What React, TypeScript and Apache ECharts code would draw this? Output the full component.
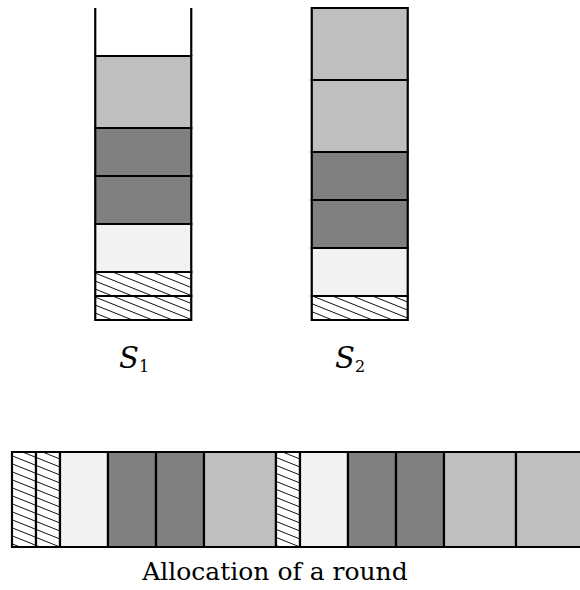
import React, { useEffect, useRef } from "react";
import * as echarts from "echarts";

// Stacks (units of equal height, bottom to top)
const stackNames = ["S1", "S2"];
const stackCapacity = 13;
const stack1Kinds = ["hatch", "hatch", "white", "dark", "dark", "light", "open"];
const stack1Sizes = [1, 1, 2, 2, 2, 3, 2];
const stack2Kinds = ["hatch", "white", "dark", "dark", "light", "light"];
const stack2Sizes = [1, 2, 2, 2, 3, 3];

// Allocation of a round (left to right); the last block runs past the page edge
const roundKinds = ["hatch", "hatch", "white", "dark", "dark", "light", "hatch", "white", "dark", "dark", "light", "light"];
const roundSizes = [1, 1, 2, 2, 2, 3, 1, 2, 2, 2, 3, 3];
const roundVisibleUnits = 23.6667;

const kindList = ["hatch", "white", "dark", "light", "open"];
const fills: Record<string, string> = {
  hatch: "#ffffff",
  white: "#f2f2f2",
  dark: "#808080",
  light: "#bfbfbf",
  open: "none",
};

function buildStackData() {
  const out: number[][] = [];
  [
    [stack1Kinds, stack1Sizes],
    [stack2Kinds, stack2Sizes],
  ].forEach(([kinds, sizes], si) => {
    let acc = 0;
    (kinds as string[]).forEach((k, i) => {
      const s = (sizes as number[])[i];
      out.push([si, acc, acc + s, kindList.indexOf(k)]);
      acc += s;
    });
  });
  return out;
}

function buildRoundData() {
  const out: number[][] = [];
  let acc = 0;
  roundKinds.forEach((k, i) => {
    out.push([acc, acc + roundSizes[i], kindList.indexOf(k)]);
    acc += roundSizes[i];
  });
  return out;
}

const SLOPE = 0.4;
const SPACING = 8;

function hatchLines(x1: number, y1: number, x2: number, y2: number) {
  const lines: any[] = [];
  const cMin = y1 - SLOPE * x2;
  const cMax = y2 - SLOPE * x1;
  const kStart = Math.floor(cMin / SPACING);
  const kEnd = Math.ceil(cMax / SPACING);
  for (let k = kStart; k <= kEnd; k++) {
    const c = k * SPACING + 3;
    const xa = Math.max(x1, (y1 - c) / SLOPE);
    const xb = Math.min(x2, (y2 - c) / SLOPE);
    if (xb - xa > 0.5) {
      lines.push({
        type: "line",
        shape: { x1: xa, y1: SLOPE * xa + c, x2: xb, y2: SLOPE * xb + c },
        style: { stroke: "#111", lineWidth: 1 },
        silent: true,
      });
    }
  }
  return lines;
}

function makeCell(x: number, y: number, w: number, h: number, kind: string) {
  const children: any[] = [];
  if (kind === "open") {
    children.push({
      type: "line",
      shape: { x1: x, y1: y, x2: x, y2: y + h },
      style: { stroke: "#000", lineWidth: 2.2 },
    });
    children.push({
      type: "line",
      shape: { x1: x + w, y1: y, x2: x + w, y2: y + h },
      style: { stroke: "#000", lineWidth: 2.2 },
    });
    return { type: "group", children };
  }
  children.push({
    type: "rect",
    shape: { x, y, width: w, height: h },
    style: { fill: fills[kind], stroke: "none" },
  });
  if (kind === "hatch") {
    children.push(...hatchLines(x, y, x + w, y + h));
  }
  children.push({
    type: "rect",
    shape: { x, y, width: w, height: h },
    style: { fill: "none", stroke: "#000", lineWidth: 2.2 },
  });
  return { type: "group", children };
}

export default function App() {
  const ref = useRef<HTMLDivElement>(null);
  useEffect(() => {
    if (!ref.current) return;
    const chart = echarts.init(ref.current, undefined, { renderer: "svg" });
    chart.setOption({
      animation: false,
      backgroundColor: "#ffffff",
      grid: [
        { left: 35, top: 8, width: 433, height: 312 },
        { left: 12, right: 0, top: 452, height: 95 },
      ],
      xAxis: [
        { gridIndex: 0, type: "value", min: -0.5, max: 1.5, show: false },
        { gridIndex: 1, type: "value", min: 0, max: roundVisibleUnits, show: false },
      ],
      yAxis: [
        { gridIndex: 0, type: "value", min: 0, max: stackCapacity, show: false },
        { gridIndex: 1, type: "value", min: 0, max: 1, show: false },
      ],
      series: [
        {
          type: "custom",
          name: stackNames.join(","),
          xAxisIndex: 0,
          yAxisIndex: 0,
          clip: false,
          silent: true,
          data: buildStackData(),
          renderItem: (params: any, api: any) => {
            const si = api.value(0);
            const p0 = api.coord([si, api.value(1)]);
            const p1 = api.coord([si, api.value(2)]);
            const w = api.size([1, 0])[0] * 0.4434;
            const kind = kindList[api.value(3)];
            return makeCell(p0[0] - w / 2, p1[1], w, p0[1] - p1[1], kind);
          },
        },
        {
          type: "custom",
          name: "round",
          xAxisIndex: 1,
          yAxisIndex: 1,
          clip: false,
          silent: true,
          data: buildRoundData(),
          renderItem: (params: any, api: any) => {
            const p0 = api.coord([api.value(0), 0]);
            const p1 = api.coord([api.value(1), 1]);
            const kind = kindList[api.value(2)];
            return makeCell(p0[0], p1[1], p1[0] - p0[0], p0[1] - p1[1], kind);
          },
        },
      ],
      graphic: [
        {
          type: "text",
          x: 119,
          y: 358,
          style: { text: "S", font: "italic 29px 'DejaVu Serif'", fill: "#000", verticalAlign: "middle" },
        },
        {
          type: "text",
          x: 139,
          y: 366,
          style: { text: "1", font: "16px 'DejaVu Serif'", fill: "#000", verticalAlign: "middle" },
        },
        {
          type: "text",
          x: 335,
          y: 358,
          style: { text: "S", font: "italic 29px 'DejaVu Serif'", fill: "#000", verticalAlign: "middle" },
        },
        {
          type: "text",
          x: 355,
          y: 366,
          style: { text: "2", font: "16px 'DejaVu Serif'", fill: "#000", verticalAlign: "middle" },
        },
        {
          type: "text",
          x: 275,
          y: 571,
          style: {
            text: "Allocation of a round",
            font: "25px 'DejaVu Serif'",
            fill: "#000",
            align: "center",
            verticalAlign: "middle",
          },
        },
      ],
    });
    return () => chart.dispose();
  }, []);
  return <div ref={ref} style={{ width: 580, height: 590, position: "absolute", left: 0, top: 0 }} />;
}
